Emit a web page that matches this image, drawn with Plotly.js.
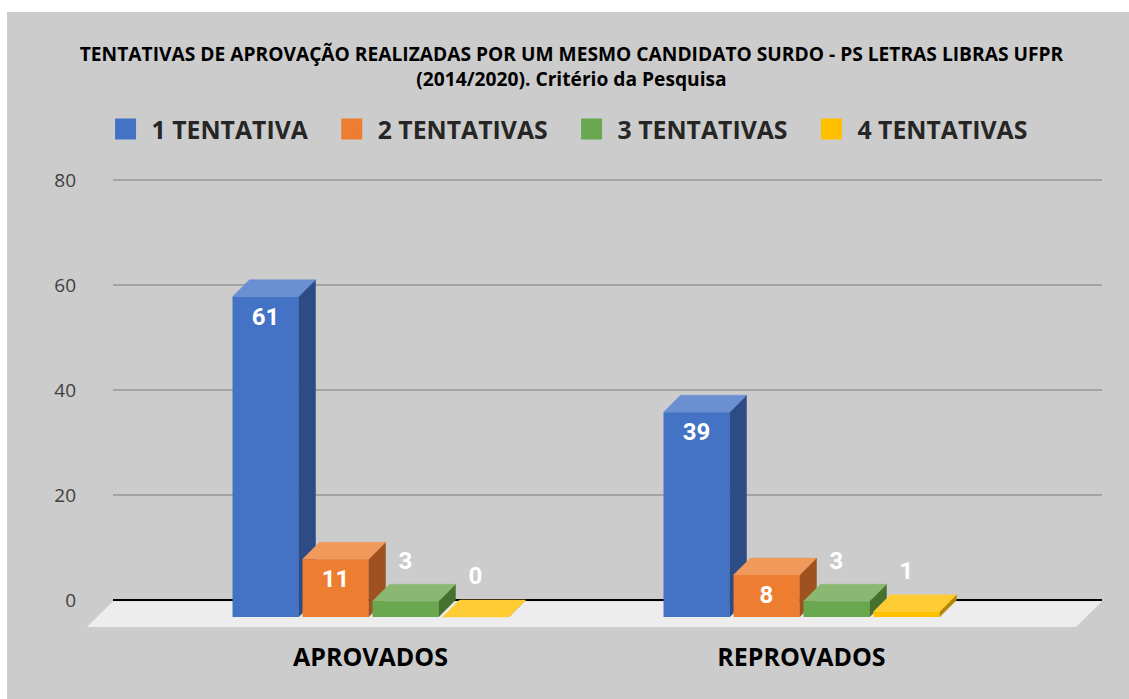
<!DOCTYPE html>
<html><head><meta charset="utf-8">
<script src="https://cdn.plot.ly/plotly-3.0.1.min.js"></script>
<style>html,body{margin:0;padding:0;background:#ffffff;} #chart{position:absolute;left:7px;top:12px;width:1122px;height:687px;}</style>
</head><body><div id="chart"></div>
<script>
// ---- data ----
const categories = ['APROVADOS', 'REPROVADOS'];
const seriesNames = ['1 TENTATIVA', '2 TENTATIVAS', '3 TENTATIVAS', '4 TENTATIVAS'];
const tentativa1 = [61, 39];
const tentativa2 = [11, 8];
const tentativa3 = [3, 3];
const tentativa4 = [0, 1];
const yTicks = [0, 20, 40, 60, 80];
const titleText = 'TENTATIVAS DE APROVAÇÃO REALIZADAS POR UM MESMO CANDIDATO SURDO - PS LETRAS LIBRAS UFPR<br>(2014/2020). Critério da Pesquisa';

// ---- style ----
const seriesValues = [tentativa1, tentativa2, tentativa3, tentativa4];
const frontColors = ['#4472C4', '#ED7D31', '#6AA84F', '#FFC000'];
const topColors   = ['#6A8FD3', '#F1995B', '#8AB872', '#FFCC33'];
const sideColors  = ['#2D4B85', '#9F521F', '#46702E', '#B38600'];

const pitch = 0.1624;     // slot per bar (category units)
const barW = 0.1531;      // bar width
const depthX = 0.0394;    // 3D depth in category units
const depthY = 3.238;     // 3D depth in value units
const smallLimit = 5;     // labels of shorter bars go above the bar
const xRange = [-0.72042, 1.74362];
const yRange = [-7.619, 80.381];
const catX = categories.map((c, i) => i);
const labelFont = {family: 'Roboto', size: 24, weight: 'bold', color: '#ffffff'};

const traces = [];
const sides = [], tops = [], fronts = [], labels = [], legendTr = [];
seriesValues.forEach((vals, s) => {
  const off = (s - 1.5) * pitch - barW / 2;
  const sx = [], sy = [], tx = [], ty = [], lx = [], ly = [], lt = [], lp = [];
  vals.forEach((v, c) => {
    const xl = catX[c] + off, xr = xl + barW;
    sx.push(xr, xr, xr + depthX, xr + depthX, xr, null);
    sy.push(-depthY, v - depthY, v, 0, -depthY, null);
    tx.push(xl, xr, xr + depthX, xl + depthX, xl, null);
    ty.push(v - depthY, v - depthY, v, v, v - depthY, null);
    lx.push(xl + barW / 2); lt.push(String(v));
    if (v < smallLimit) { ly.push(v); lp.push('top center'); }
    else { ly.push(v - depthY); lp.push('bottom center'); }
  });
  sides.push({type: 'scatter', mode: 'lines', x: sx, y: sy, fill: 'toself', fillcolor: sideColors[s],
    line: {color: sideColors[s], width: 0.5}, xaxis: 'x2', yaxis: 'y2', showlegend: false, hoverinfo: 'skip'});
  tops.push({type: 'scatter', mode: 'lines', x: tx, y: ty, fill: 'toself', fillcolor: topColors[s],
    line: {color: topColors[s], width: 0.5}, xaxis: 'x2', yaxis: 'y2', showlegend: false, hoverinfo: 'skip'});
  fronts.push({type: 'bar', x: catX, y: vals, base: vals.map(() => -depthY), width: barW, offset: off,
    marker: {color: frontColors[s], line: {width: 0}}, name: seriesNames[s], showlegend: false,
    xaxis: 'x3', yaxis: 'y3', hoverinfo: 'skip'});
  labels.push({type: 'scatter', mode: 'markers+text', x: lx, y: ly, text: lt, textposition: lp,
    marker: {size: 14, color: 'rgba(0,0,0,0)'},
    textfont: labelFont, cliponaxis: false,
    xaxis: 'x3', yaxis: 'y3', showlegend: false, hoverinfo: 'skip'});
  legendTr.push({type: 'scatter', mode: 'markers', x: [null], y: [null], name: seriesNames[s] + '\u00a0\u00a0',
    marker: {symbol: 'square', size: 16, color: frontColors[s], line: {color: frontColors[s], width: 5}},
    xaxis: 'x3', yaxis: 'y3', hoverinfo: 'skip'});
});
// grid anchor trace
traces.push({type: 'scatter', mode: 'none', x: [0], y: [0], xaxis: 'x', yaxis: 'y', showlegend: false, hoverinfo: 'skip'});
traces.push(...sides, ...tops, ...fronts, ...labels, ...legendTr);

const layout = {
  width: 1122, height: 687,
  paper_bgcolor: '#CCCCCC', plot_bgcolor: 'rgba(0,0,0,0)',
  margin: {l: 53, r: 7, t: 166, b: 59, pad: 0},
  showlegend: true,
  hovermode: false,
  barmode: 'overlay',
  title: {text: titleText, xref: 'container', yref: 'container', x: 0.5031, y: 0.929, xanchor: 'center', yanchor: 'top',
    font: {family: 'Open Sans', size: 19.2, weight: 'bold', color: '#000000'}},
  legend: {orientation: 'h', xref: 'container', yref: 'container', x: 0.0825, y: 0.829, xanchor: 'left', yanchor: 'middle',
    itemwidth: 42, bgcolor: 'rgba(0,0,0,0)',
    font: {family: 'Open Sans', size: 24.8, weight: 'bold', color: '#262626'}},
  xaxis: {domain: [0.049906, 0.981168], range: [0, 1], visible: false, fixedrange: true},
  yaxis: {range: yRange, tickvals: yTicks, ticktext: yTicks.map(String), showgrid: true, gridcolor: '#A3A3A3', gridwidth: 1.5,
    zeroline: true, zerolinecolor: '#000000', zerolinewidth: 2, showline: false, ticks: '',
    ticklabelstandoff: 36, tickfont: {family: 'Open Sans', size: 19, color: '#404040'}, fixedrange: true},
  xaxis2: {domain: [0, 1], range: xRange, anchor: 'y2', tickvals: catX, ticktext: categories, showgrid: false,
    zeroline: false, showline: false, ticks: '', tickfont: {family: 'Open Sans', size: 25, weight: 'bold', color: '#000000'}, fixedrange: true},
  yaxis2: {domain: [0, 1], range: yRange, anchor: 'x2', visible: false, fixedrange: true},
  xaxis3: {overlaying: 'x2', range: xRange, anchor: 'y3', visible: false, fixedrange: true},
  yaxis3: {overlaying: 'y2', range: yRange, anchor: 'x3', visible: false, fixedrange: true},
  shapes: [{type: 'path', xref: 'x2', yref: 'y2', layer: 'below',
    path: 'M -0.5974,-0.25 L 1.6972,-0.25 L 1.6369,-5.143 L -0.6578,-5.143 Z',
    fillcolor: '#EDEDED', line: {width: 0}}]
};
Plotly.newPlot('chart', traces, layout, {displayModeBar: false, staticPlot: true});
</script></body></html>
